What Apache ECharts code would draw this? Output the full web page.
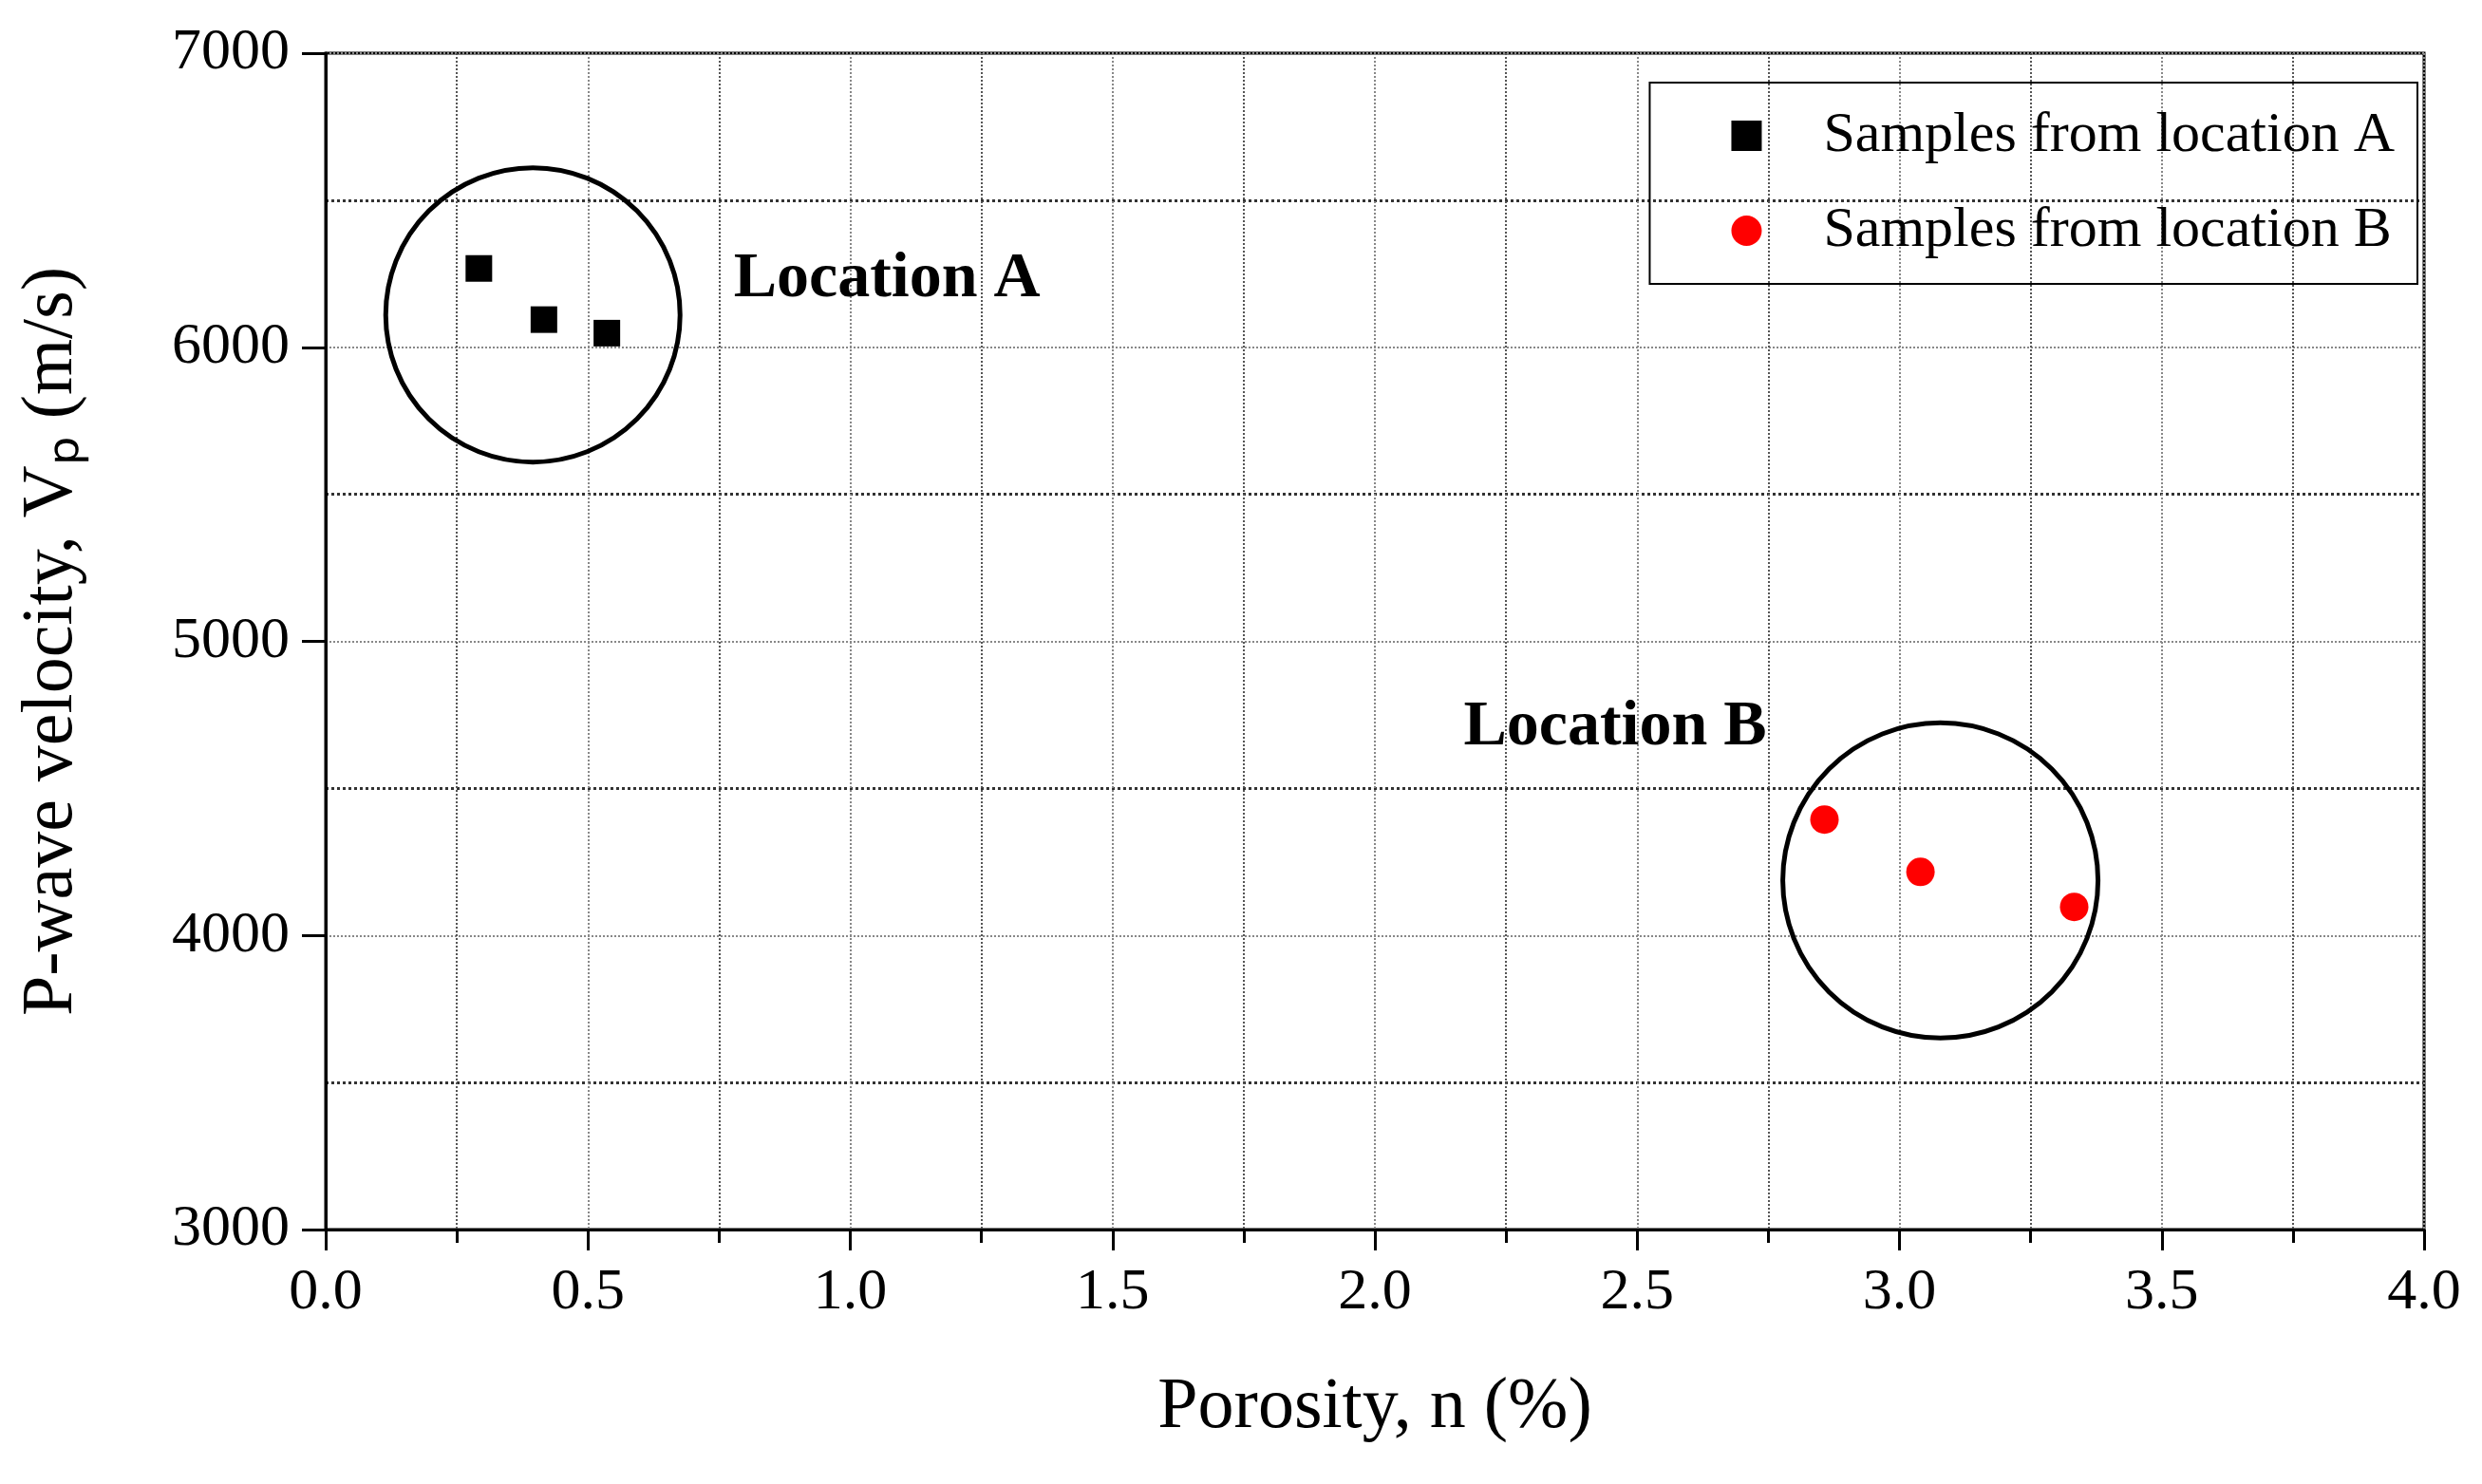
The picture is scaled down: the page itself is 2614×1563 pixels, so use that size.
<!DOCTYPE html>
<html>
<head>
<meta charset="utf-8">
<script src="https://cdn.jsdelivr.net/npm/echarts@6/dist/echarts.min.js"></script>
<style>html,body{margin:0;padding:0;background:#fff}#chart{width:2614px;height:1563px}</style>
</head>
<body>
<div id="chart"></div>
<script>
// samples
var porosityA = [0.292, 0.416, 0.536];
var velocityA = [6268, 6094, 6048];
var porosityB = [2.857, 3.040, 3.333];
var velocityB = [4394, 4216, 4097];
// grouping circles (centre) and labels
var ringCentres = [[0.395, 6110], [3.078, 4187]];
var ringSizes = [310, 332];
var groupLabels = [[1.07, 6229, 'Location A'], [2.458, 4706, 'Location B']];

var font = 'Liberation Serif';
var myChart = echarts.init(document.getElementById('chart'));

function pairs(xs, ys) {
    return xs.map(function (x, i) { return [x, ys[i]]; });
}

option = {
    animation: false,
    textStyle: { fontFamily: font },
    grid: {
        left: 343, right: 61, top: 56, bottom: 268,
        show: true, borderColor: '#000', borderWidth: 3
    },
    legend: {
        right: 68, top: 87,
        orient: 'vertical',
        itemGap: 40,
        itemWidth: 32, itemHeight: 32,
        padding: [26, 24, 26, 86],
        borderColor: '#000', borderWidth: 2,
        textStyle: { fontFamily: font, fontSize: 60, color: '#000', padding: [0, 0, 0, 60] },
        data: ['Samples from location A', 'Samples from location B']
    },
    xAxis: {
        type: 'value', min: 0, max: 4, interval: 0.5,
        name: 'Porosity, n (%)', nameLocation: 'middle', nameGap: 150,
        nameTextStyle: { fontFamily: font, fontSize: 76, color: '#000' },
        axisLine: { lineStyle: { color: '#000', width: 3 } },
        axisTick: { inside: false, length: 22, lineStyle: { color: '#000', width: 3 } },
        minorTick: { show: true, splitNumber: 2, length: 14, lineStyle: { color: '#000', width: 3 } },
        axisLabel: { fontFamily: font, fontSize: 62, color: '#000', margin: 36,
            formatter: function (v) { return v.toFixed(1); } },
        splitLine: { lineStyle: { color: '#888', type: 'dotted', width: 2 } },
        minorSplitLine: { show: true, lineStyle: { color: '#555', type: 'dotted', width: 2 } }
    },
    yAxis: {
        type: 'value', min: 3000, max: 7000, interval: 1000,
        name: 'P-wave velocity, V\u209a (m/s)', nameLocation: 'middle', nameGap: 250,
        nameTextStyle: { fontFamily: font, fontSize: 76, color: '#000' },
        axisLine: { lineStyle: { color: '#000', width: 3 } },
        axisTick: { inside: false, length: 25, lineStyle: { color: '#000', width: 3 } },
        minorTick: { show: false, splitNumber: 2 },
        axisLabel: { fontFamily: font, fontSize: 62, color: '#000', margin: 38,
            formatter: function (v) { return String(v); } },
        splitLine: { lineStyle: { color: '#888', type: 'dotted', width: 2 } },
        minorSplitLine: { show: true, lineStyle: { color: '#333', type: 'dotted', width: 3 } }
    },
    series: [
        {
            name: 'Samples from location A', type: 'scatter', symbol: 'rect', symbolSize: 28,
            itemStyle: { color: '#000', opacity: 1 }, data: pairs(porosityA, velocityA), z: 5
        },
        {
            name: 'Samples from location B', type: 'scatter', symbol: 'circle', symbolSize: 30,
            itemStyle: { color: '#ff0000', opacity: 1 }, data: pairs(porosityB, velocityB), z: 5
        },
        {
            name: 'rings', type: 'scatter', symbol: 'circle', silent: true,
            symbolSize: function (v, p) { return ringSizes[p.dataIndex]; },
            itemStyle: { color: 'rgba(0,0,0,0)', borderColor: '#000', borderWidth: 5, opacity: 1 },
            data: ringCentres, z: 4
        },
        {
            name: 'labels', type: 'scatter', symbolSize: 1, silent: true,
            itemStyle: { color: 'rgba(0,0,0,0)', opacity: 1 },
            label: {
                show: true, position: 'inside', formatter: function (p) { return p.data[2]; },
                fontFamily: font, fontSize: 68, fontWeight: 'bold', color: '#000', opacity: 1
            },
            data: groupLabels, z: 6
        }
    ]
};
myChart.setOption(option);
</script>
</body>
</html>
